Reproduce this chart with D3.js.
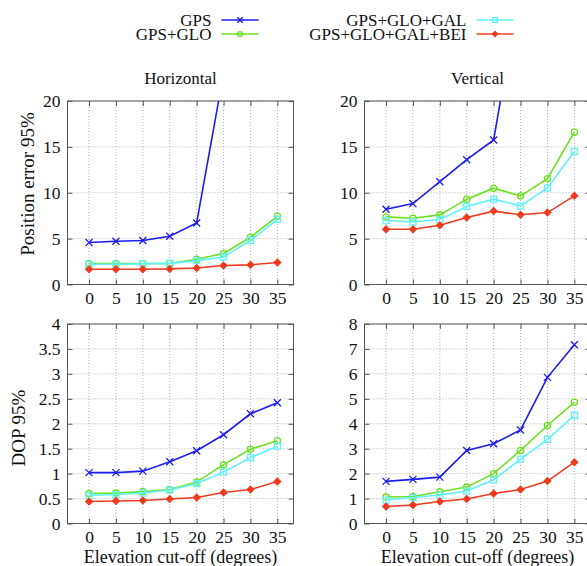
<!DOCTYPE html>
<html>
<head>
<meta charset="utf-8">
<script src="https://cdn.jsdelivr.net/npm/d3@7"></script>
<style>
  body { margin: 0; background: #fff; }
</style>
</head>
<body>
<div id="chart"></div>
<script>
// elevation cut-off (degrees)
const elevation = [0, 5, 10, 15, 20, 25, 30, 35];
const seriesNames = ["GPS", "GPS+GLO", "GPS+GLO+GAL", "GPS+GLO+GAL+BEI"];
const seriesColors = ["#1c1cf0", "#6be21f", "#5ef2ff", "#f03a1e"];

// position error 95%, one row per series (GPS goes off the chart after 25)
const horizontalError = [
  [4.57, 4.72, 4.79, 5.26, 6.71, 23.0, null, null],
  [2.29, 2.29, 2.29, 2.30, 2.76, 3.38, 5.15, 7.44],
  [2.20, 2.20, 2.25, 2.30, 2.60, 3.00, 4.80, 7.10],
  [1.67, 1.67, 1.67, 1.70, 1.80, 2.07, 2.14, 2.40]
];
const verticalError = [
  [8.20, 8.82, 11.2, 13.6, 15.75, 32.7, null, null],
  [7.37, 7.22, 7.59, 9.30, 10.5, 9.65, 11.54, 16.6],
  [6.97, 6.82, 7.08, 8.50, 9.30, 8.57, 10.53, 14.5],
  [6.03, 6.03, 6.46, 7.30, 8.00, 7.60, 7.84, 9.66]
];
// DOP 95%
const horizontalDop = [
  [1.02, 1.02, 1.05, 1.24, 1.46, 1.78, 2.20, 2.42],
  [0.60, 0.61, 0.64, 0.68, 0.83, 1.18, 1.49, 1.66],
  [0.56, 0.58, 0.61, 0.67, 0.80, 1.03, 1.32, 1.55],
  [0.44, 0.45, 0.46, 0.49, 0.52, 0.62, 0.68, 0.84]
];
const verticalDop = [
  [1.69, 1.77, 1.86, 2.93, 3.20, 3.75, 5.86, 7.17],
  [1.06, 1.08, 1.27, 1.46, 2.00, 2.93, 3.93, 4.86],
  [0.94, 1.04, 1.14, 1.30, 1.75, 2.58, 3.37, 4.33],
  [0.68, 0.74, 0.88, 0.98, 1.20, 1.36, 1.70, 2.46]
];

const errorTicks = [0, 5, 10, 15, 20];
const hDopTicks = [0, 0.5, 1, 1.5, 2, 2.5, 3, 3.5, 4];
const vDopTicks = [0, 1, 2, 3, 4, 5, 6, 7, 8];

const font = "'Liberation Serif', 'Times New Roman', serif";
const width = 587, height = 566;
const svg = d3.select("#chart").append("svg")
    .attr("width", width).attr("height", height)
    .attr("font-family", font);

const symbols = [d3.symbolTimes || d3.symbolCross, d3.symbolCircle, d3.symbolSquare, d3.symbolDiamond2 || d3.symbolDiamond];
const symbolSizes = [34, 30, 36, 28];
const filled = [false, false, false, true];

const cols = [[67.5, 293.5], [364.5, 590.5]];
const rows = [[101, 284.5], [324, 523.5]];

const panels = [
  {c: 0, r: 0, data: horizontalError, ticks: errorTicks, title: "Horizontal", ylabel: "Position error 95%", ylx: 27, yly: 184},
  {c: 1, r: 0, data: verticalError, ticks: errorTicks, title: "Vertical"},
  {c: 0, r: 1, data: horizontalDop, ticks: hDopTicks, ylabel: "DOP 95%", ylx: 18, yly: 428, xlabel: true},
  {c: 1, r: 1, data: verticalDop, ticks: vDopTicks, xlabel: true}
];

panels.forEach((p, pi) => {
  const [x0, x1] = cols[p.c];
  const [y0, y1] = rows[p.r];
  const x = d3.scaleLinear().domain([-4, 38]).range([x0, x1]);
  const y = d3.scaleLinear().domain([0, d3.max(p.ticks)]).range([y1, y0]);

  const g = svg.append("g");

  // dotted grid
  g.append("g").selectAll("line").data(elevation).join("line")
      .attr("x1", d => x(d)).attr("x2", d => x(d))
      .attr("y1", y0).attr("y2", y1)
      .attr("stroke", "#9a9a9a").attr("stroke-width", 0.8).attr("stroke-dasharray", "1,2");
  g.append("g").selectAll("line").data(p.ticks).join("line")
      .attr("x1", x0).attr("x2", x1)
      .attr("y1", d => y(d)).attr("y2", d => y(d))
      .attr("stroke", "#9a9a9a").attr("stroke-width", 0.8).attr("stroke-dasharray", "1,2");

  // inward ticks on all four sides
  const tick = 5;
  const axes = [
    [d3.axisBottom(x).tickValues(elevation), `translate(0,${y1})`],
    [d3.axisTop(x).tickValues(elevation), `translate(0,${y0})`],
    [d3.axisLeft(y).tickValues(p.ticks), `translate(${x0},0)`],
    [d3.axisRight(y).tickValues(p.ticks), `translate(${x1},0)`]
  ];
  axes.forEach(([ax, tr]) => {
    const a = g.append("g").attr("transform", tr)
        .call(ax.tickSize(-tick).tickFormat(""));
    a.select(".domain").remove();
    a.selectAll("line").attr("stroke", "#555");
  });

  g.append("rect")
      .attr("x", x0).attr("y", y0)
      .attr("width", x1 - x0).attr("height", y1 - y0)
      .attr("fill", "none").attr("stroke", "#555").attr("stroke-width", 1);

  // tick labels
  const xl = g.append("g").attr("transform", `translate(0,${y1})`)
      .call(d3.axisBottom(x).tickValues(elevation).tickSize(0).tickPadding(7.5));
  xl.select(".domain").remove();
  const yl = g.append("g").attr("transform", `translate(${x0},0)`)
      .call(d3.axisLeft(y).tickValues(p.ticks).tickSize(0).tickPadding(7).tickFormat(d3.format("~g")));
  yl.select(".domain").remove();
  [xl, yl].forEach(a => a
      .attr("font-family", font)
      .attr("font-size", 17.5)
      .selectAll("text").attr("fill", "#111"));

  // series, clipped to plot box
  const clipId = "clip" + pi;
  svg.append("clipPath").attr("id", clipId).append("rect")
      .attr("x", x0).attr("y", y0).attr("width", x1 - x0).attr("height", y1 - y0);
  const plot = g.append("g").attr("clip-path", `url(#${clipId})`);

  p.data.forEach((vals, si) => {
    const pts = elevation.map((e, i) => [e, vals[i]]).filter(d => d[1] != null);
    plot.append("path")
        .datum(pts)
        .attr("fill", "none")
        .attr("stroke", seriesColors[si])
        .attr("stroke-width", 1.6)
        .attr("d", d3.line().x(d => x(d[0])).y(d => y(d[1])));
    plot.append("g").selectAll("path").data(pts).join("path")
        .attr("transform", d => `translate(${x(d[0])},${y(d[1])})`)
        .attr("d", d3.symbol(symbols[si], symbolSizes[si]))
        .attr("fill", filled[si] ? seriesColors[si] : "none")
        .attr("stroke", seriesColors[si])
        .attr("stroke-width", 1.3);
  });

  if (p.title) {
    svg.append("text")
        .attr("x", (x0 + x1) / 2).attr("y", 84)
        .attr("text-anchor", "middle")
        .attr("font-size", 17)
        .attr("fill", "#111")
        .text(p.title);
  }
  if (p.ylabel) {
    svg.append("text")
        .attr("transform", `translate(${p.ylx},${p.yly}) rotate(-90)`)
        .attr("text-anchor", "middle")
        .attr("dominant-baseline", "central")
        .attr("font-size", 19)
        .attr("fill", "#111")
        .text(p.ylabel);
  }
  if (p.xlabel) {
    svg.append("text")
        .attr("x", (x0 + x1) / 2).attr("y", 563)
        .attr("text-anchor", "middle")
        .attr("font-size", 18)
        .attr("fill", "#111")
        .text("Elevation cut-off (degrees)");
  }
});

// legend, two columns of two
const legendPos = [[211.5, 20], [211.5, 34], [466.5, 20], [466.5, 34]];
const legend = svg.append("g").selectAll("g").data(seriesNames).join("g")
    .attr("transform", (d, i) => `translate(${legendPos[i][0]},${legendPos[i][1]})`);
legend.append("text")
    .attr("text-anchor", "end")
    .attr("dominant-baseline", "central")
    .attr("font-size", 17)
    .attr("fill", "#111")
    .text(d => d);
legend.append("line")
    .attr("x1", 10).attr("x2", 47)
    .attr("stroke", (d, i) => seriesColors[i])
    .attr("stroke-width", 1.6);
legend.append("path")
    .attr("transform", "translate(28.5,0)")
    .attr("d", (d, i) => d3.symbol(symbols[i], symbolSizes[i] * 0.6)())
    .attr("fill", (d, i) => filled[i] ? seriesColors[i] : "none")
    .attr("stroke", (d, i) => seriesColors[i])
    .attr("stroke-width", 1.3);
</script>
</body>
</html>
